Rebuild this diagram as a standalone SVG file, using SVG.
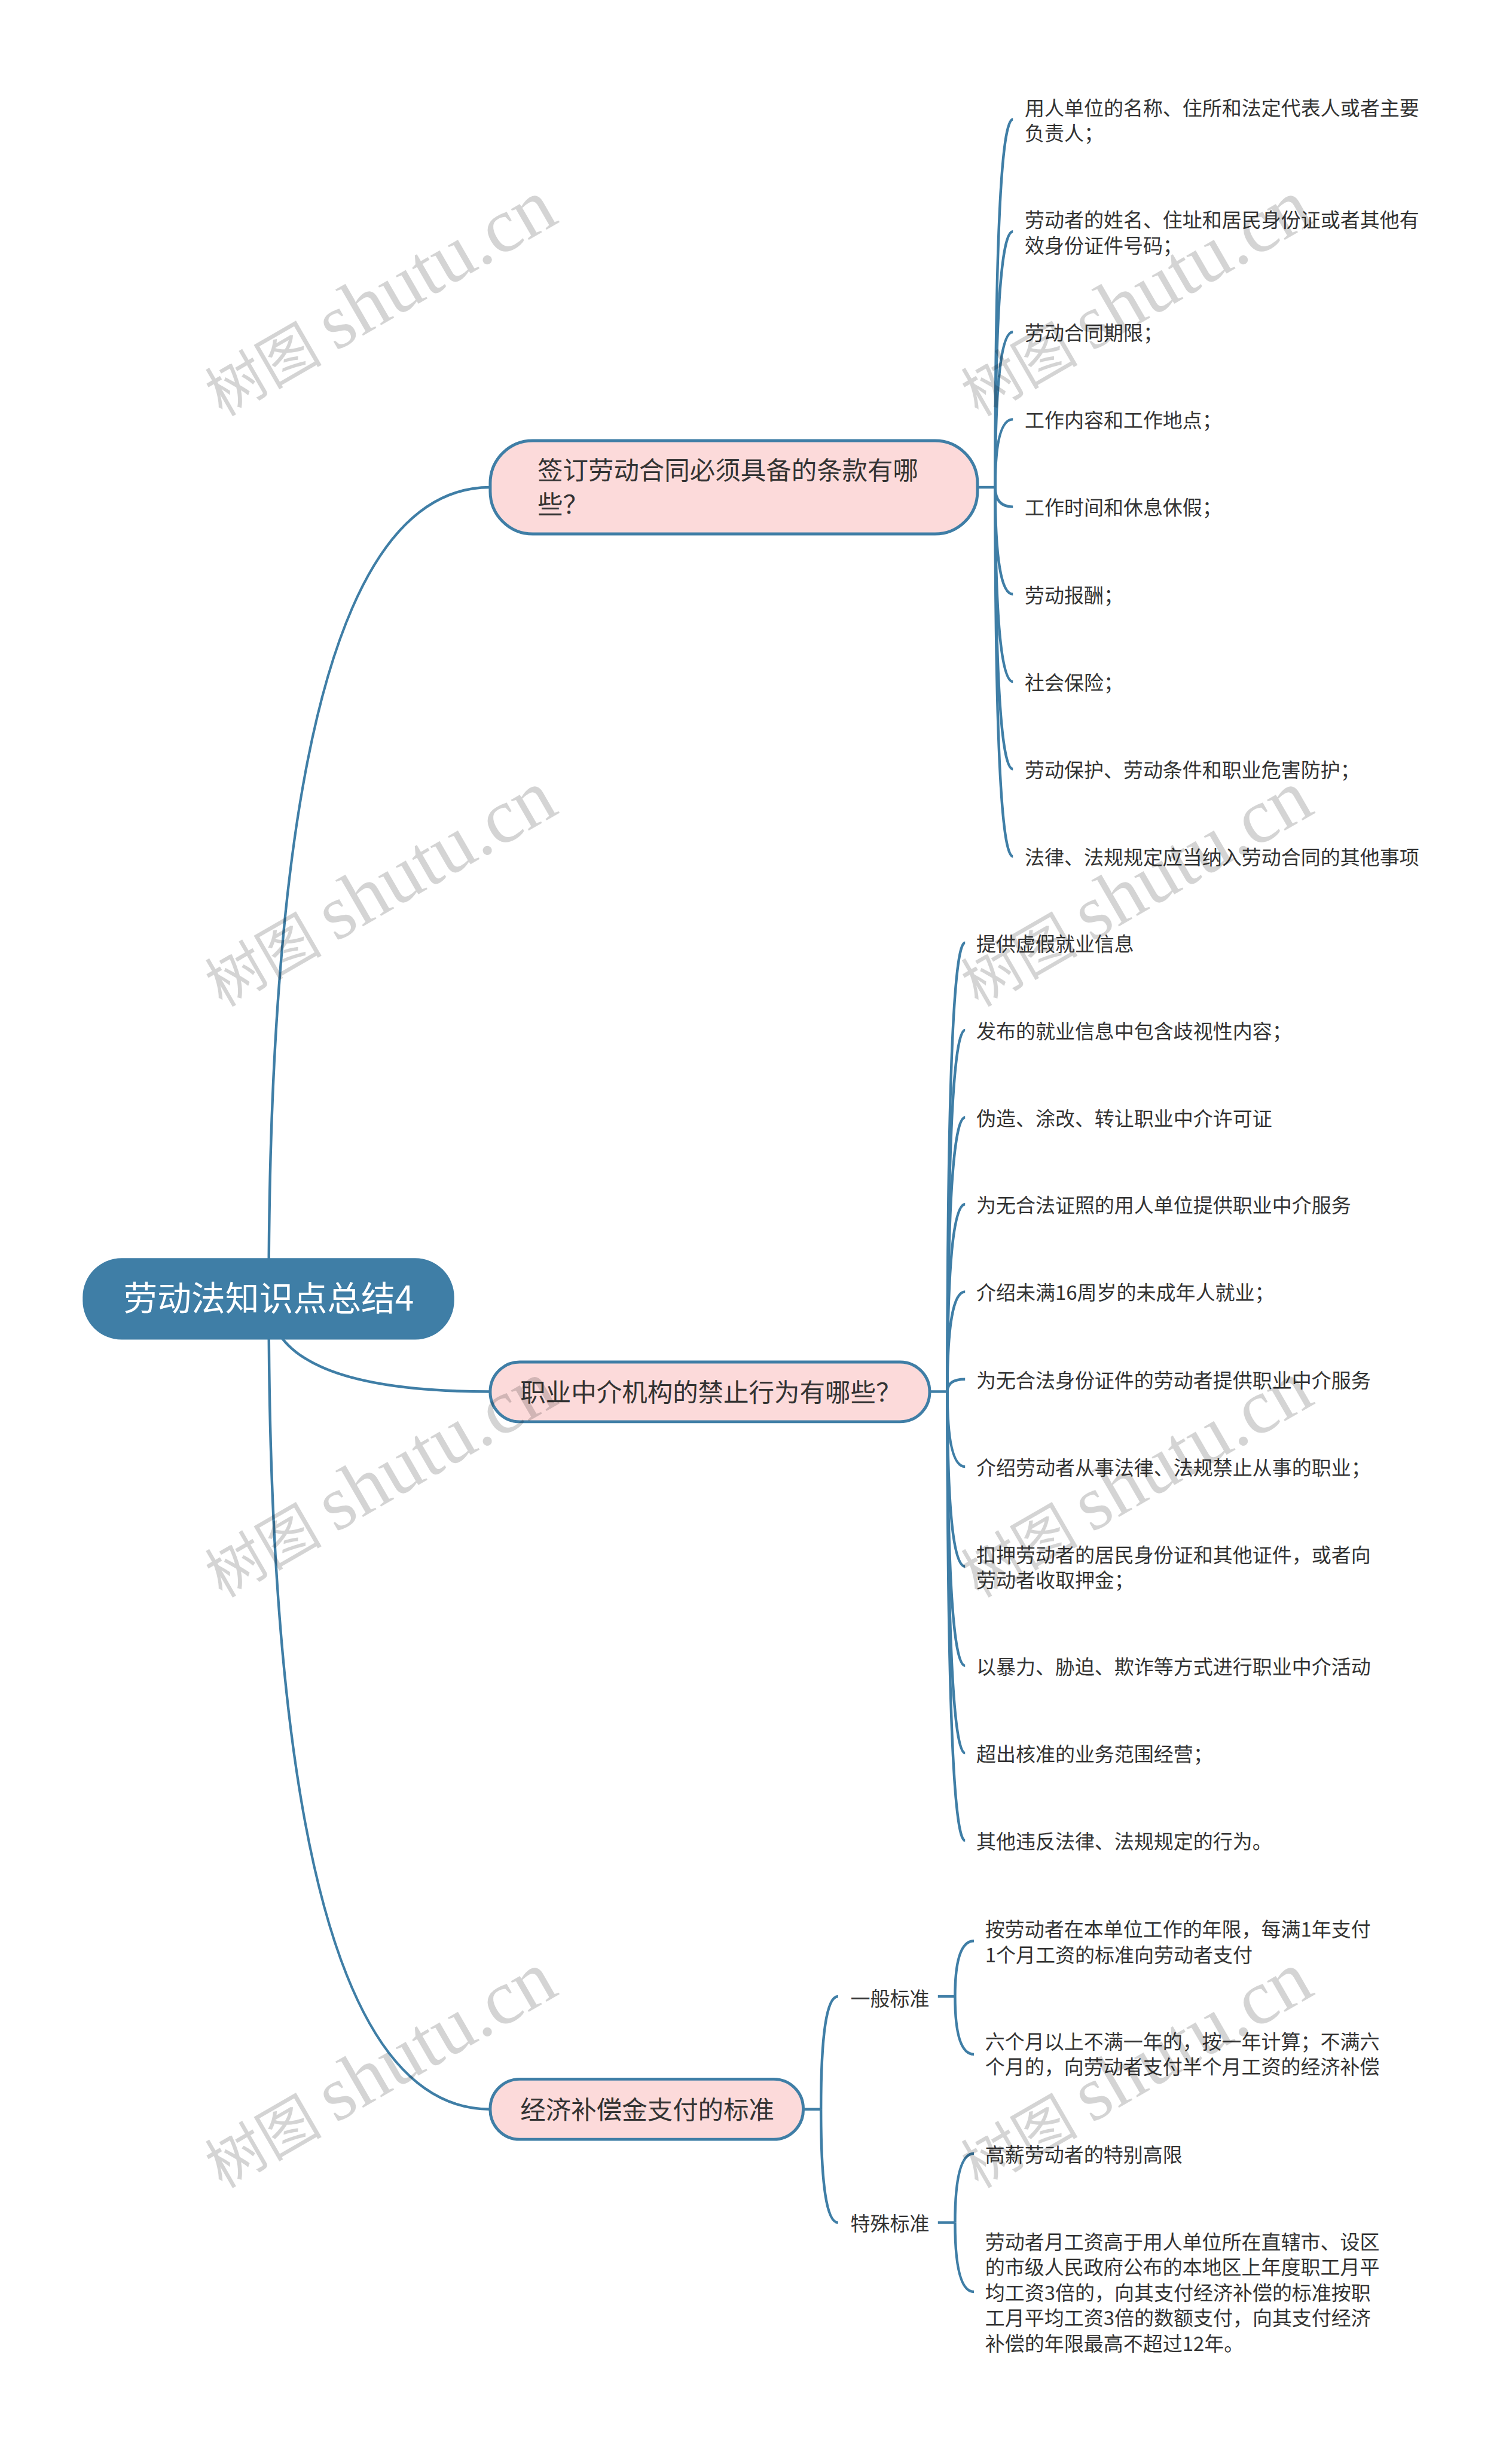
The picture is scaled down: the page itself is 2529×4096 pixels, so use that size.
<svg xmlns="http://www.w3.org/2000/svg" width="2529" height="4096" viewBox="0 0 2529 4096">
<defs>
<style>
text{font-family:"Noto Sans CJK SC","Noto Sans",sans-serif;fill:#333}
.c{fill:none;stroke:#3f7ea6;stroke-width:4.5}
.l{font-size:33.4px}
.m{font-size:43px}
.r{font-size:57.5px;fill:#fff}
.n{fill:#fcdada;stroke:#3f7ea6;stroke-width:5}
.w{font-family:"Liberation Serif","Noto Sans CJK SC",serif;fill:#000;fill-opacity:.17}
</style>
<g id="wm"><text class="w" transform="translate(376 706) rotate(-30)"><tspan font-size="99">树图</tspan><tspan font-size="131" dx="-9"> shutu.cn</tspan></text></g>
</defs>
<rect width="2529" height="4096" fill="#fff"/>
<g transform="scale(.98789)">
<g id="connectors">
<path class="c" d="M455 2197Q455 825 830 825"/>
<path class="c" d="M455 2197Q455 2356 830 2356"/>
<path class="c" d="M455 2197Q455 3571 830 3571"/>
<path class="c" d="M1655 825H1685"/>
<path class="c" d="M1685 825Q1685 202 1715 202"/>
<path class="c" d="M1685 825Q1685 392 1715 392"/>
<path class="c" d="M1685 825Q1685 562 1715 562"/>
<path class="c" d="M1685 825Q1685 710 1715 710"/>
<path class="c" d="M1685 825Q1685 858 1715 858"/>
<path class="c" d="M1685 825Q1685 1006 1715 1006"/>
<path class="c" d="M1685 825Q1685 1154 1715 1154"/>
<path class="c" d="M1685 825Q1685 1302 1715 1302"/>
<path class="c" d="M1685 825Q1685 1450 1715 1450"/>
<path class="c" d="M1574 2356H1604"/>
<path class="c" d="M1604 2356Q1604 1596 1634 1596"/>
<path class="c" d="M1604 2356Q1604 1744 1634 1744"/>
<path class="c" d="M1604 2356Q1604 1892 1634 1892"/>
<path class="c" d="M1604 2356Q1604 2039 1634 2039"/>
<path class="c" d="M1604 2356Q1604 2187 1634 2187"/>
<path class="c" d="M1604 2356Q1604 2335 1634 2335"/>
<path class="c" d="M1604 2356Q1604 2483 1634 2483"/>
<path class="c" d="M1604 2356Q1604 2652 1634 2652"/>
<path class="c" d="M1604 2356Q1604 2820 1634 2820"/>
<path class="c" d="M1604 2356Q1604 2968 1634 2968"/>
<path class="c" d="M1604 2356Q1604 3116 1634 3116"/>
<path class="c" d="M1360 3571H1390"/>
<path class="c" d="M1390 3571Q1390 3380 1419 3380"/>
<path class="c" d="M1390 3571Q1390 3763 1419 3763"/>
<path class="c" d="M1588 3380H1617"/>
<path class="c" d="M1617 3380Q1617 3286 1649 3286"/>
<path class="c" d="M1617 3380Q1617 3478 1649 3478"/>
<path class="c" d="M1588 3763H1617"/>
<path class="c" d="M1617 3763Q1617 3646 1649 3646"/>
<path class="c" d="M1617 3763Q1617 3880 1649 3880"/>
</g>
<g id="root"><rect x="140" y="2130" width="629" height="138" rx="66" fill="#3f7ea6"/><text class="r" x="209" y="2219">劳动法知识点总结4</text></g>
<g id="n1"><rect class="n" x="830" y="746" width="825" height="158" rx="72"/><text class="m" x="910" y="812">签订劳动合同必须具备的条款有哪</text><text class="m" x="910" y="870">些？</text></g>
<g id="n2"><rect class="n" x="830" y="2306" width="744" height="101" rx="50"/><text class="m" x="881" y="2373">职业中介机构的禁止行为有哪些？</text></g>
<g id="n3"><rect class="n" x="830" y="3520" width="530" height="102" rx="50"/><text class="m" x="881" y="3587">经济补偿金支付的标准</text></g>
<g id="a1"><text class="l" x="1735" y="195">用人单位的名称、住所和法定代表人或者主要</text><text class="l" x="1735" y="238">负责人；</text></g>
<g id="a2"><text class="l" x="1735" y="385">劳动者的姓名、住址和居民身份证或者其他有</text><text class="l" x="1735" y="428">效身份证件号码；</text></g>
<g id="a3"><text class="l" x="1735" y="576">劳动合同期限；</text></g>
<g id="a4"><text class="l" x="1735" y="724">工作内容和工作地点；</text></g>
<g id="a5"><text class="l" x="1735" y="872">工作时间和休息休假；</text></g>
<g id="a6"><text class="l" x="1735" y="1020">劳动报酬；</text></g>
<g id="a7"><text class="l" x="1735" y="1168">社会保险；</text></g>
<g id="a8"><text class="l" x="1735" y="1316">劳动保护、劳动条件和职业危害防护；</text></g>
<g id="a9"><text class="l" x="1735" y="1464">法律、法规规定应当纳入劳动合同的其他事项</text></g>
<g id="b1"><text class="l" x="1653" y="1610">提供虚假就业信息</text></g>
<g id="b2"><text class="l" x="1653" y="1758">发布的就业信息中包含歧视性内容；</text></g>
<g id="b3"><text class="l" x="1653" y="1906">伪造、涂改、转让职业中介许可证</text></g>
<g id="b4"><text class="l" x="1653" y="2053">为无合法证照的用人单位提供职业中介服务</text></g>
<g id="b5"><text class="l" x="1653" y="2201">介绍未满16周岁的未成年人就业；</text></g>
<g id="b6"><text class="l" x="1653" y="2349">为无合法身份证件的劳动者提供职业中介服务</text></g>
<g id="b7"><text class="l" x="1653" y="2497">介绍劳动者从事法律、法规禁止从事的职业；</text></g>
<g id="b8"><text class="l" x="1653" y="2645">扣押劳动者的居民身份证和其他证件，或者向</text><text class="l" x="1653" y="2688">劳动者收取押金；</text></g>
<g id="b9"><text class="l" x="1653" y="2834">以暴力、胁迫、欺诈等方式进行职业中介活动</text></g>
<g id="b10"><text class="l" x="1653" y="2982">超出核准的业务范围经营；</text></g>
<g id="b11"><text class="l" x="1653" y="3130">其他违反法律、法规规定的行为。</text></g>
<g id="c1"><text class="l" x="1440" y="3396">一般标准</text></g>
<g id="c2"><text class="l" x="1440" y="3777">特殊标准</text></g>
<g id="d1"><text class="l" x="1668" y="3279">按劳动者在本单位工作的年限，每满1年支付</text><text class="l" x="1668" y="3322">1个月工资的标准向劳动者支付</text></g>
<g id="d2"><text class="l" x="1668" y="3469">六个月以上不满一年的，按一年计算；不满六</text><text class="l" x="1668" y="3512">个月的，向劳动者支付半个月工资的经济补偿</text></g>
<g id="d3"><text class="l" x="1668" y="3660">高薪劳动者的特别高限</text></g>
<g id="d4"><text class="l" x="1668" y="3808">劳动者月工资高于用人单位所在直辖市、设区</text><text class="l" x="1668" y="3851">的市级人民政府公布的本地区上年度职工月平</text><text class="l" x="1668" y="3894">均工资3倍的，向其支付经济补偿的标准按职</text><text class="l" x="1668" y="3937">工月平均工资3倍的数额支付，向其支付经济</text><text class="l" x="1668" y="3980">补偿的年限最高不超过12年。</text></g>
<g id="watermarks">
<use href="#wm"/><use href="#wm" x="1280"/>
<use href="#wm" y="1000"/><use href="#wm" x="1280" y="1000"/>
<use href="#wm" y="2000"/><use href="#wm" x="1280" y="2000"/>
<use href="#wm" y="3000"/><use href="#wm" x="1280" y="3000"/>
</g>
</g>
</svg>
